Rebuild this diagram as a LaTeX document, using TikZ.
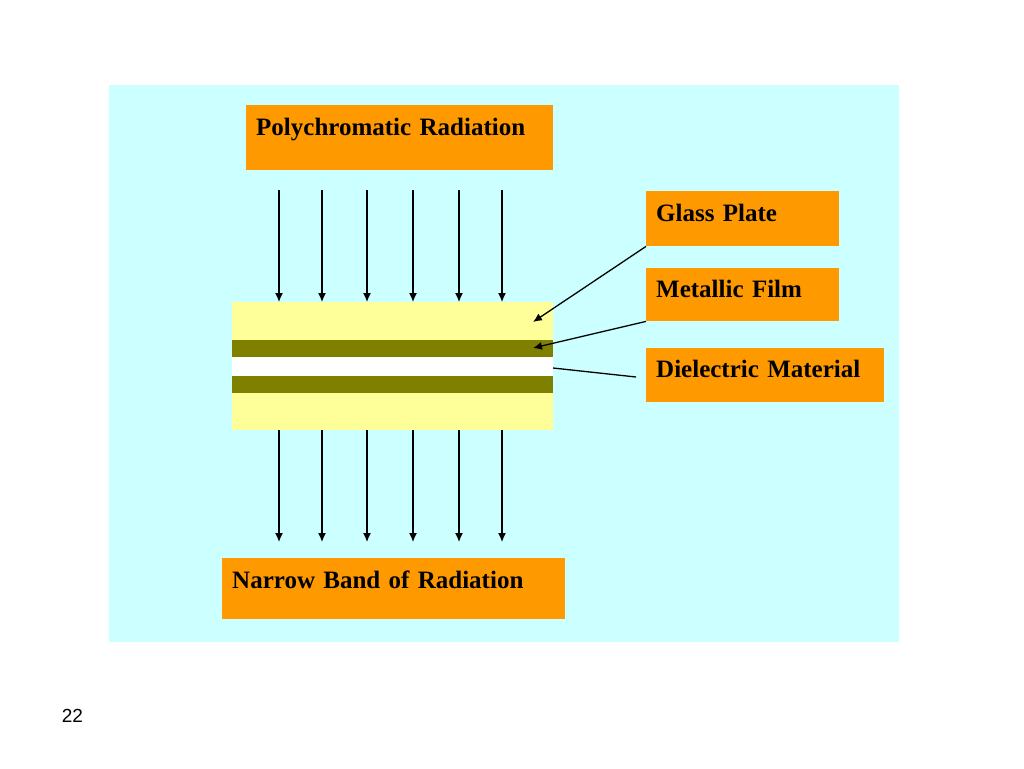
\documentclass[tikz,border=0pt]{standalone}
\usepackage{fontspec}
\setmainfont{Liberation Serif}
\setsansfont{Liberation Sans}
\usetikzlibrary{arrows.meta}
\definecolor{bgcyan}{HTML}{CCFFFF}
\definecolor{boxorange}{HTML}{FF9900}
\definecolor{glassyellow}{HTML}{FFFF99}
\definecolor{filmolive}{HTML}{808000}
\tikzset{
  labelbox/.style={fill=boxorange, anchor=north west, inner xsep=10pt, inner ysep=0pt,
    align=left, font=\bfseries\fontsize{25}{29}\selectfont},
  ray/.style={-{Latex[length=9pt,width=8pt]}, line width=1.3pt},
  pointer/.style={line width=1.3pt}
}
\begin{document}
\begin{tikzpicture}[x=1pt, y=-1pt]
  \useasboundingbox (0, 0) rectangle (1024, 768);
  \fill[bgcyan] (109, 85) rectangle (899, 642);

  % filter stack
  \node[fill=glassyellow, anchor=north west, minimum width=321pt, minimum height=128pt, inner sep=0pt] (stack) at (232, 302) {};
  \fill[filmolive] (232, 340) rectangle (553, 357);
  \fill[white] (232, 357) rectangle (553, 376);
  \fill[filmolive] (232, 376) rectangle (553, 393);
  \coordinate (glass) at (533, 322);
  \coordinate (film) at (533, 348);
  \coordinate (dielec) at (553, 368);

  % boxes
  \node[labelbox, text width=287pt, text height=30pt, text depth=35pt] (poly) at (246, 105) {Polychromatic Radiation};
  \node[labelbox, text width=173pt, text height=30pt, text depth=25pt] (glassbox) at (646, 191) {Glass Plate};
  \node[labelbox, text width=173pt, text height=29pt, text depth=24pt] (filmbox) at (646, 268) {Metallic Film};
  \node[labelbox, text width=218pt, text height=29pt, text depth=25pt] (dielecbox) at (646, 348) {Dielectric Material};
  \node[labelbox, text width=323pt, text height=30pt, text depth=31pt] (narrow) at (222, 558) {Narrow Band of Radiation};
  \node[font=\sffamily\fontsize{19}{22}\selectfont] (page) at (72.5, 716) {22};

  % rays
  \foreach \x in {279, 322, 367, 413, 459, 502} {
    \draw[ray] (\x, 190) -- (\x, 0 |- stack.north);
    \draw[ray] (\x, 0 |- stack.south) -- (\x, 542);
  }

  % pointers
  \draw[pointer, -{Latex[length=9pt,width=8pt]}] (glassbox.south west) -- (glass);
  \draw[pointer, -{Latex[length=9pt,width=8pt]}] (filmbox.south west) -- (film);
  \draw[pointer] (636, 377) -- (dielec);
\end{tikzpicture}
\end{document}
